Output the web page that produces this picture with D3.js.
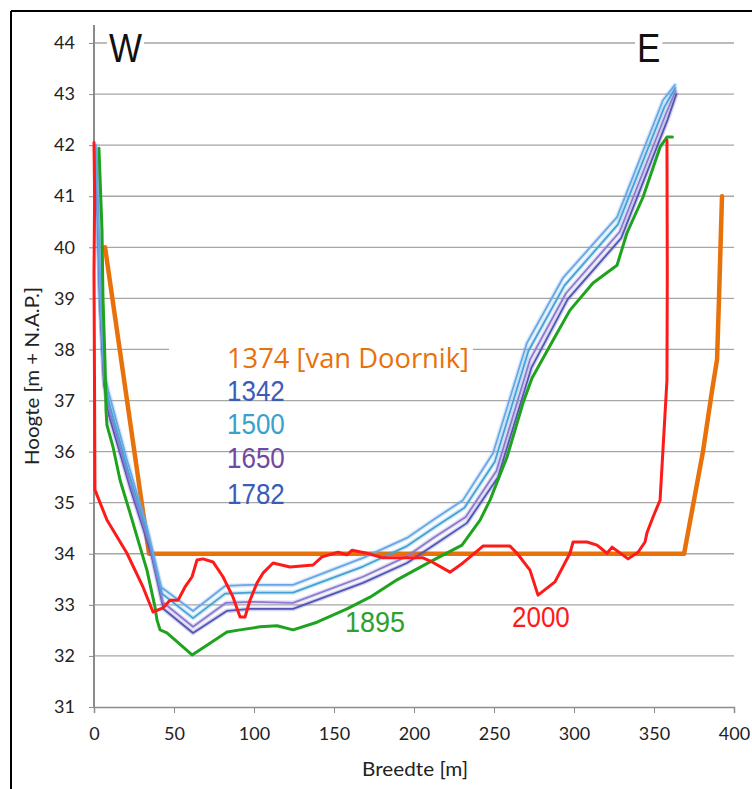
<!DOCTYPE html>
<html><head><meta charset="utf-8">
<script src="https://cdn.jsdelivr.net/npm/d3@7"></script>
<style>
html,body{margin:0;padding:0;background:#fff;}
svg{display:block;}
</style></head>
<body>
<script>
// ---- data ----
const xTicks = [0,50,100,150,200,250,300,350,400];
const yTicks = [31,32,33,34,35,36,37,38,39,40,41,42,43,44];

const s1374 = [[6.9,40.0],[34.4,34.0],[368.8,34.0],[380.6,36.0],[386.3,37.2],[389.4,37.8],[390.6,38.97],[392.5,41.0]];

const s1342 = [[1.3,42.0],[3.8,39.16],[6.3,37.6],[8.8,37.2],[20.6,35.84],[33.1,34.52],[41.9,33.35],[61.9,32.88],[81.9,33.37],[97.5,33.39],[124.4,33.39],[168.1,33.92],[195.6,34.31],[211.9,34.66],[230.6,35.05],[249.4,35.97],[270.6,38.13],[293.1,39.4],[326.9,40.59],[355.6,42.88],[363.1,43.18]];
const s1500 = [[1.3,41.9],[3.8,39.1],[6.3,37.5],[9.0,37.0],[21.5,35.6],[34.0,34.35],[42.5,33.22],[61.9,32.74],[82.0,33.22],[97.5,33.24],[124.4,33.24],[168.1,33.75],[195.6,34.15],[212.0,34.5],[231.5,34.9],[250.5,35.8],[271.5,37.97],[294.0,39.25],[327.5,40.45],[356.5,42.75],[363.3,43.12]];
const s1650 = [[1.3,41.8],[3.8,39.0],[6.3,37.4],[9.2,36.85],[22.3,35.4],[35.0,34.15],[43.0,33.05],[61.9,32.57],[82.5,33.04],[97.5,33.06],[124.4,33.04],[168.1,33.55],[195.6,33.95],[212.5,34.32],[232.3,34.72],[251.5,35.62],[272.5,37.8],[295.0,39.1],[328.5,40.3],[357.5,42.62],[363.5,43.06]];
const s1782 = [[1.3,41.7],[3.8,38.9],[6.3,37.3],[9.4,36.7],[23.0,35.25],[35.8,34.0],[43.5,32.92],[61.9,32.45],[83.0,32.88],[97.5,32.92],[124.4,32.92],[168.1,33.43],[195.6,33.82],[213.0,34.18],[233.0,34.6],[252.5,35.5],[273.5,37.65],[296.0,38.98],[329.5,40.18],[358.5,42.5],[364.0,43.0]];

const s1895 = [[3.1,41.94],[5.0,40.34],[5.6,39.03],[6.9,37.73],[7.5,36.81],[8.1,36.52],[11.9,36.09],[16.3,35.44],[22.5,34.8],[28.8,34.13],[33.1,33.68],[38.1,32.96],[39.4,32.7],[41.3,32.51],[45.6,32.45],[61.3,32.02],[70.6,32.21],[83.1,32.47],[91.3,32.51],[103.8,32.57],[114.4,32.59],[124.4,32.51],[139.4,32.66],[158.1,32.92],[172.5,33.15],[189.4,33.49],[210.0,33.84],[230.0,34.17],[241.3,34.66],[247.5,35.05],[258.1,35.89],[268.1,36.95],[273.8,37.44],[286.9,38.18],[297.5,38.77],[311.9,39.3],[326.9,39.65],[333.1,40.28],[343.1,40.98],[353.8,41.96],[358.1,42.16],[361.5,42.16]];

const s2000 = [[0.0,42.05],[0.4,41.0],[0.0,39.5],[0.3,37.5],[0.6,35.25],[8.1,34.66],[20.6,34.01],[30.6,33.35],[36.9,32.86],[43.1,32.94],[47.5,33.09],[52.5,33.09],[56.9,33.35],[61.3,33.55],[64.4,33.88],[68.1,33.9],[74.4,33.84],[80.6,33.55],[86.9,33.15],[91.3,32.76],[94.4,32.76],[97.5,33.09],[101.9,33.43],[105.6,33.62],[111.9,33.82],[122.5,33.74],[136.9,33.78],[142.5,33.94],[152.5,34.03],[158.1,33.98],[161.3,34.07],[170.6,34.01],[180.6,33.92],[205.6,33.92],[211.3,33.84],[222.5,33.64],[230.6,33.82],[243.1,34.15],[260.0,34.15],[264.4,34.01],[272.5,33.68],[277.5,33.19],[288.1,33.45],[297.5,34.01],[299.4,34.23],[308.1,34.23],[314.4,34.17],[320.6,34.01],[323.8,34.13],[333.8,33.9],[340.0,34.03],[344.4,34.23],[345.6,34.41],[349.4,34.72],[353.8,35.05],[358.1,37.4],[358.3,39.5],[358.1,42.1]];

const seriesLabels = ["1374 [van Doornik]","1342","1500","1650","1782"];

// ---- drawing ----
const W = 752, H = 789;
const svg = d3.select("body").append("svg").attr("width",W).attr("height",H);
const x = d3.scaleLinear().domain([0,400]).range([94,734]);
const y = d3.scaleLinear().domain([31,44]).range([707,43]);

// frame
svg.append("line").attr("x1",11).attr("y1",11).attr("x2",W).attr("y2",11).attr("stroke","#000").attr("stroke-width",2);
svg.append("line").attr("x1",11).attr("y1",11).attr("x2",11).attr("y2",H).attr("stroke","#000").attr("stroke-width",2);

// gridlines
svg.append("g").selectAll("line").data(yTicks.filter(d=>d>31)).join("line")
  .attr("x1",x(0)).attr("x2",x(400)).attr("y1",d=>y(d)).attr("y2",d=>y(d))
  .attr("stroke","#a6a6a6").attr("stroke-width",1.3);

// axes
const yAxis = svg.append("g").attr("transform",`translate(${x(0)},0)`)
  .call(d3.axisLeft(y).tickValues(yTicks).tickSize(5).tickPadding(14).tickFormat(d3.format("d")));
const xAxis = svg.append("g").attr("transform",`translate(0,${y(31)})`)
  .call(d3.axisBottom(x).tickValues(xTicks).tickSize(6).tickPadding(14).tickFormat(d3.format("d")));
[yAxis,xAxis].forEach(g=>{
  g.select(".domain").attr("stroke","#8c8c8c").attr("stroke-width",1.5);
  g.selectAll(".tick line").attr("stroke","#8c8c8c");
  g.selectAll("text").attr("fill","#222").style("font-family","Lato, 'Open Sans', sans-serif").style("font-size","18px");
});
yAxis.select(".domain").remove();
svg.append("line").attr("x1",x(0)).attr("x2",x(0)).attr("y1",25).attr("y2",y(31))
  .attr("stroke","#8a8a8a").attr("stroke-width",2);

// axis titles
svg.append("text").attr("x",415).attr("y",776).attr("text-anchor","middle")
  .style("font-family","Lato, 'Open Sans', sans-serif").style("font-size","19px").attr("fill","#222")
  .attr("textLength",106).attr("lengthAdjust","spacingAndGlyphs").text("Breedte [m]");
svg.append("text").attr("transform","translate(39,376) rotate(-90)").attr("text-anchor","middle")
  .style("font-family","Lato, 'Open Sans', sans-serif").style("font-size","19px").attr("fill","#222")
  .attr("textLength",178).attr("lengthAdjust","spacingAndGlyphs").text("Hoogte [m + N.A.P.]");

// W / E labels with white background
function bigLetter(t, xl){
  const g = svg.append("g");
  const tx = g.append("text").attr("x",0).attr("y",0)
    .style("font-family","'Liberation Sans', Arial, sans-serif").style("font-size","35px").attr("fill","#111").text(t);
  const bb = tx.node().getBBox();
  g.insert("rect","text").attr("x",bb.x-2).attr("y",-26).attr("width",bb.width+4).attr("height",28).attr("fill","#fff");
  g.attr("transform",`translate(${xl},62) scale(1,1.15)`);
}
bigLetter("W",109);
bigLetter("E",637);

// series lines
const line = d3.line().x(d=>x(d[0])).y(d=>y(d[1]));
const plot = svg.append("g").attr("fill","none").attr("stroke-linejoin","round").attr("stroke-linecap","round");
plot.append("path").datum(s1374).attr("d",line).attr("stroke","#E8710A").attr("stroke-width",4.5);
const blues = [[s1782,"#5354b8"],[s1650,"#8a7ad0"],[s1500,"#44a2d6"],[s1342,"#68a6e8"]];
blues.forEach(([d,c])=>{
  plot.append("path").datum(d).attr("d",line).attr("stroke",c).attr("stroke-opacity",0.25).attr("stroke-width",4.5);
});
blues.forEach(([d,c])=>{
  plot.append("path").datum(d).attr("d",line).attr("stroke",c).attr("stroke-width",1.8);
});
plot.append("path").datum(s1895).attr("d",line).attr("stroke","#1fa31f").attr("stroke-width",3);
plot.append("path").datum(s2000).attr("d",line).attr("stroke","#ff1a1a").attr("stroke-width",3);

// in-chart labels
function lab(t, xl, yb, col, opts={}){
  const g = svg.append("g").attr("transform",`translate(${xl},${yb}) scale(1,1.12)`);
  if(opts.bg){
    g.append("rect").attr("x",-58).attr("y",-26).attr("width",304).attr("height",30).attr("fill","#fff");
  }
  const tx = g.append("text").attr("x",0).attr("y",0).attr("fill",col)
    .style("font-family",opts.font||"'Liberation Sans', Arial, sans-serif").style("font-size",(opts.size||26)+"px").text(t);
  if(opts.len) tx.attr("textLength",opts.len).attr("lengthAdjust","spacingAndGlyphs");
}
lab(seriesLabels[0],227,368,"#E8710A",{bg:true,font:"'Open Sans', sans-serif",size:24,len:242});
lab(seriesLabels[1],227,401,"#3b5cb8");
lab(seriesLabels[2],227,434,"#3aa0cc");
lab(seriesLabels[3],227,468,"#7049a2");
lab(seriesLabels[4],227,504,"#3b5cb8");
lab("1895",345,632,"#2ea02e",{size:27});
lab("2000",512,627,"#ff1a1a");
</script>
</body></html>
